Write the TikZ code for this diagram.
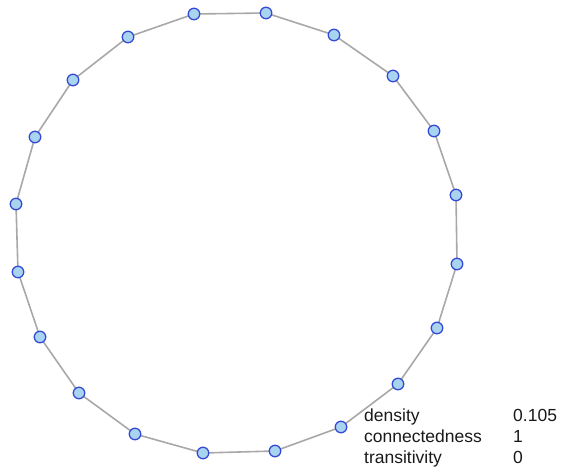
\documentclass[tikz,border=0pt]{standalone}
\usepackage{fontspec}
\setmainfont{Liberation Sans}
\definecolor{nodefill}{RGB}{168,212,240}
\definecolor{nodeline}{RGB}{52,72,214}
\definecolor{edgegray}{RGB}{168,168,168}
\begin{document}
\begin{tikzpicture}[x=1pt,y=-1pt,
  vert/.style={circle,draw=nodeline,fill=nodefill,line width=1.3pt,minimum size=11.5pt,inner sep=0pt},
  edge/.style={draw=edgegray,line width=1.6pt},
  lbl/.style={anchor=base west,inner sep=0pt,font=\fontsize{17.5}{20}\selectfont,text=black!90}]
\useasboundingbox (0,0) rectangle (563,469);
\foreach \n/\x/\y in {1/194/14, 2/266/13, 3/334/35, 4/393/76, 5/434/131, 6/456/195, 7/457/264, 8/437/328, 9/398/384, 10/341/427, 11/275/451, 12/203/453, 13/135/434, 14/79/393, 15/40/337, 16/18/272, 17/16/204, 18/35/137, 19/73/80, 20/128/37}
  \coordinate (p\n) at (\x,\y);
\foreach \a/\b in {1/2,2/3,3/4,4/5,5/6,6/7,7/8,8/9,9/10,10/11,11/12,12/13,13/14,14/15,15/16,16/17,17/18,18/19,19/20,20/1}
  \draw[edge] (p\a) -- (p\b);
\foreach \n in {1,...,20}
  \node[vert] (v\n) at (p\n) {};
\node[lbl] (d1) at (364,421) {density};
\node[lbl] (d2) at (364,442) {connectedness};
\node[lbl] (d3) at (364,463) {transitivity};
\node[lbl] (e1) at (513,421) {0.105};
\node[lbl] (e2) at (513,442) {1};
\node[lbl] (e3) at (513,463) {0};
\end{tikzpicture}
\end{document}
